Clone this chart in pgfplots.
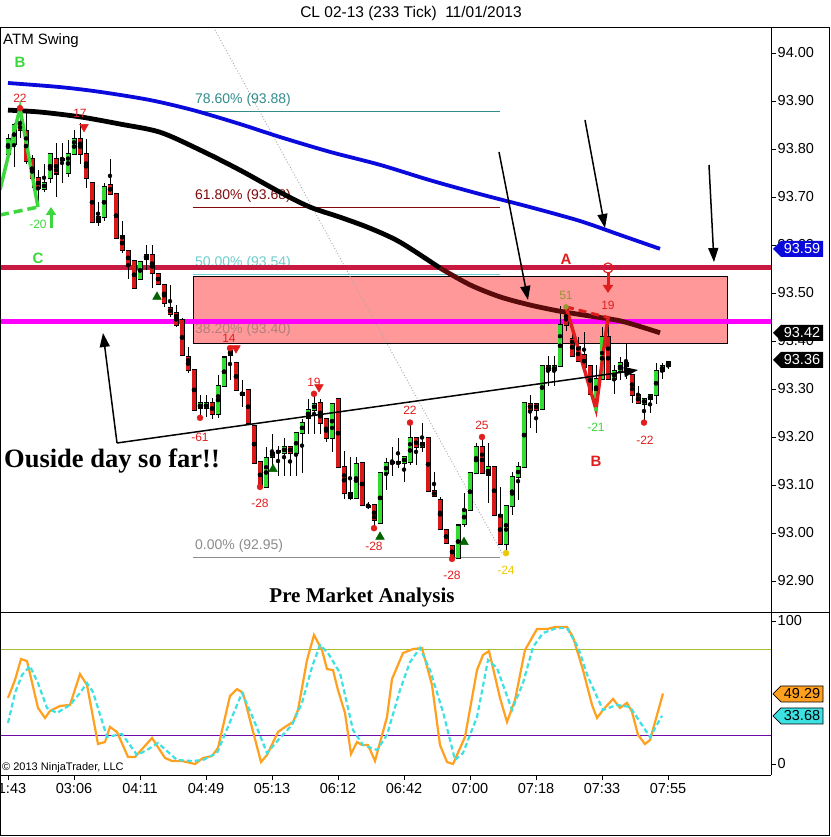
\documentclass[border=0pt]{standalone}
\usepackage{pgfplots}
\pgfplotsset{compat=1.18}
\usepackage{pgfplotstable}
\usetikzlibrary{arrows.meta}
\usepackage{fontspec}
\setmainfont{Liberation Sans}
\newfontfamily\timesfont{Liberation Serif}
\newcommand\fs[1]{\fontsize{#1bp}{#1bp}\selectfont}

\definecolor{cgreen}{RGB}{50,220,50}
\definecolor{cred}{RGB}{215,25,25}
\definecolor{crimsonl}{RGB}{200,25,65}
\definecolor{magl}{RGB}{255,0,255}
\definecolor{pinkbox}{RGB}{255,153,153}
\definecolor{fib78}{RGB}{50,140,140}
\definecolor{fib61}{RGB}{130,10,10}
\definecolor{fib50}{RGB}{110,205,205}
\definecolor{fibgray}{RGB}{140,140,140}
\definecolor{fib38}{RGB}{180,125,125}
\definecolor{mablue}{RGB}{10,10,220}
\definecolor{madark}{RGB}{90,10,10}
\definecolor{korange}{RGB}{255,160,30}
\definecolor{dcyan}{RGB}{60,225,225}
\definecolor{lvl80}{RGB}{165,190,50}
\definecolor{lvl20}{RGB}{110,10,170}
\definecolor{tgreen}{RGB}{0,100,0}
\definecolor{lblgreen}{RGB}{60,215,60}
\definecolor{lblred}{RGB}{225,30,30}
\definecolor{lblolive}{RGB}{150,150,50}
\definecolor{lblyellow}{RGB}{240,200,0}

% x o h l c  (green / neutral candles)
\pgfplotstableread{
x o h l c
8 93.790 93.833 93.785 93.821
14 93.810 93.854 93.762 93.850
44 93.717 93.769 93.710 93.730
50 93.740 93.790 93.730 93.790
62 93.778 93.813 93.730 93.780
68 93.750 93.819 93.742 93.790
74 93.790 93.840 93.790 93.821
98 93.650 93.690 93.640 93.660
104 93.658 93.730 93.650 93.720
140 93.530 93.567 93.530 93.567
146 93.570 93.600 93.548 93.580
200 93.260 93.288 93.240 93.270
206 93.260 93.288 93.242 93.270
218 93.248 93.330 93.240 93.308
224 93.308 93.367 93.308 93.367
230 93.370 93.385 93.320 93.380
242 93.290 93.320 93.263 93.294
266 93.096 93.180 93.096 93.158
272 93.158 93.208 93.135 93.167
278 93.168 93.183 93.120 93.170
284 93.167 93.198 93.120 93.180
296 93.167 93.208 93.120 93.208
302 93.208 93.240 93.127 93.230
308 93.240 93.280 93.208 93.258
314 93.258 93.290 93.208 93.270
332 93.198 93.270 93.170 93.270
356 93.075 93.158 93.070 93.146
368 93.056 93.065 93.050 93.058
380 93.020 93.125 93.020 93.125
386 93.125 93.158 93.090 93.146
392 93.146 93.180 93.120 93.148
398 93.146 93.198 93.135 93.148
404 93.146 93.158 93.108 93.158
410 93.148 93.230 93.142 93.198
422 93.180 93.230 93.170 93.188
458 92.950 93.017 92.950 93.017
464 93.020 93.085 93.013 93.048
470 93.048 93.125 93.048 93.125
476 93.125 93.188 93.125 93.180
488 93.120 93.188 93.063 93.138
506 92.977 93.056 92.958 93.056
512 93.056 93.127 93.038 93.117
518 93.117 93.148 93.070 93.138
524 93.138 93.270 93.138 93.270
542 93.258 93.348 93.258 93.348
554 93.340 93.370 93.308 93.348
560 93.348 93.473 93.348 93.433
596 93.280 93.350 93.258 93.320
602 93.320 93.430 93.320 93.408
614 93.320 93.350 93.290 93.338
620 93.338 93.367 93.320 93.356
644 93.270 93.280 93.230 93.280
650 93.280 93.288 93.250 93.288
656 93.288 93.356 93.270 93.338
662 93.338 93.356 93.323 93.348
668 93.348 93.356 93.342 93.356
}\greenc

% x o h l c  (red candles)
\pgfplotstableread{
x o h l c
20 93.850 93.885 93.823 93.840
26 93.838 93.875 93.770 93.777
32 93.780 93.788 93.720 93.740
38 93.740 93.756 93.680 93.720
56 93.780 93.813 93.700 93.750
80 93.821 93.854 93.769 93.790
86 93.790 93.821 93.720 93.740
92 93.730 93.730 93.648 93.648
110 93.727 93.780 93.708 93.708
116 93.708 93.708 93.617 93.617
122 93.620 93.650 93.583 93.590
128 93.588 93.588 93.530 93.558
134 93.567 93.567 93.510 93.510
152 93.580 93.600 93.510 93.542
158 93.540 93.542 93.517 93.520
164 93.517 93.520 93.473 93.480
170 93.470 93.517 93.450 93.458
176 93.458 93.475 93.430 93.433
182 93.444 93.448 93.370 93.370
188 93.367 93.388 93.333 93.340
194 93.340 93.340 93.258 93.258
212 93.270 93.283 93.240 93.248
236 93.356 93.356 93.298 93.298
248 93.298 93.298 93.230 93.230
254 93.225 93.225 93.148 93.148
260 93.148 93.148 93.096 93.096
290 93.180 93.180 93.120 93.167
320 93.270 93.280 93.208 93.230
326 93.238 93.238 93.190 93.198
338 93.280 93.280 93.138 93.138
344 93.138 93.170 93.070 93.085
350 93.085 93.160 93.070 93.075
362 93.146 93.146 93.058 93.058
374 93.058 93.058 93.010 93.027
416 93.198 93.198 93.142 93.180
428 93.198 93.198 93.088 93.088
434 93.088 93.127 93.077 93.077
440 93.070 93.075 93.010 93.010
446 93.008 93.008 92.977 92.980
452 92.975 92.975 92.946 92.950
482 93.180 93.200 93.125 93.125
494 93.138 93.138 93.038 93.038
500 93.038 93.096 92.977 92.977
530 93.270 93.288 93.220 93.258
536 93.270 93.270 93.208 93.258
548 93.348 93.370 93.308 93.340
566 93.470 93.470 93.420 93.433
572 93.406 93.427 93.370 93.370
578 93.388 93.408 93.360 93.360
584 93.370 93.420 93.346 93.346
590 93.348 93.348 93.290 93.290
608 93.408 93.450 93.320 93.320
626 93.356 93.396 93.320 93.350
632 93.330 93.330 93.270 93.288
638 93.288 93.308 93.270 93.270
}\redc

\begin{document}
\begin{tikzpicture}
\path[use as bounding box] (0,0) rectangle (831bp,837bp);
% ---------- background drawing objects (pixel coordinates, y down)
\begin{scope}[x=1bp,y=-1bp,yshift=837bp]
 \fill[white] (0,0) rectangle (831,837);
 \fill[pinkbox] (193,276) rectangle (727,343);
 \draw[black, line width=0.8bp] (193,276) rectangle (727,343);
 \draw[gray!70, dotted, line width=0.9bp] (215,30) -- (503,555);
 \draw[fib78, line width=0.9bp] (193,111) -- (500,111);
 \draw[fib61, line width=0.9bp] (193,207) -- (500,207);
 \draw[fib50, line width=0.9bp] (193,274) -- (500,274);
 \draw[fibgray, line width=0.9bp] (193,557) -- (500,557);
 \node[anchor=west, fib78, inner sep=0pt] at (195,100) {\fs{14}78.60\% (93.88)};
 \node[anchor=west, fib61, inner sep=0pt] at (195,196) {\fs{14}61.80\% (93.68)};
 \node[anchor=west, fib50, inner sep=0pt] at (195,263) {\fs{14}50.00\% (93.54)};
 \node[anchor=west, fib38, inner sep=0pt] at (195,330) {\fs{14}38.20\% (93.40)};
 \node[anchor=west, fibgray, inner sep=0pt] at (195,546) {\fs{14}0.00\% (92.95)};
 \draw[crimsonl, line width=5bp] (0,268) -- (771,268);
 \draw[magl, line width=5bp] (0,322) -- (771,322);
\end{scope}

% ---------- price panel
\begin{axis}[at={(0bp,224bp)}, anchor=south west, width=771bp, height=586bp,
  scale only axis, xmin=0, xmax=771, ymin=92.8333, ymax=94.0542,
  axis x line=none, axis y line*=right,
  ytick={92.9,93,93.1,93.2,93.3,93.4,93.5,93.6,93.7,93.8,93.9,94},
  tick align=outside, major tick length=5bp,
  tick style={black, line width=0.8bp}, axis line style={line width=1bp},
  /pgf/number format/assume math mode=true,
  yticklabel style={font=\fs{14.5}, inner xsep=1.5bp,
    /pgf/number format/fixed, /pgf/number format/fixed zerofill,
    /pgf/number format/precision=2}]
 % wicks
 \addplot[only marks, mark=none, error bars/.cd, y dir=both, y explicit, error mark=none,
   error bar style={draw=black, line width=1bp}]
   table[x=x, y expr={(\thisrow{h}+\thisrow{l})/2}, y error expr={(\thisrow{h}-\thisrow{l})/2}] {\greenc};
 \addplot[only marks, mark=none, error bars/.cd, y dir=both, y explicit, error mark=none,
   error bar style={draw=black, line width=1bp}]
   table[x=x, y expr={(\thisrow{h}+\thisrow{l})/2}, y error expr={(\thisrow{h}-\thisrow{l})/2}] {\redc};
 % body outlines
 \addplot[only marks, mark=none, error bars/.cd, y dir=both, y explicit, error mark=none,
   error bar style={draw=black, line width=5bp}]
   table[x=x, y expr={(\thisrow{o}+\thisrow{c})/2}, y error expr={abs(\thisrow{o}-\thisrow{c})/2+0.0022}] {\greenc};
 \addplot[only marks, mark=none, error bars/.cd, y dir=both, y explicit, error mark=none,
   error bar style={draw=black, line width=5bp}]
   table[x=x, y expr={(\thisrow{o}+\thisrow{c})/2}, y error expr={abs(\thisrow{o}-\thisrow{c})/2+0.0022}] {\redc};
 % body fills
 \addplot[only marks, mark=none, error bars/.cd, y dir=both, y explicit, error mark=none,
   error bar style={draw=cgreen, line width=3.2bp}]
   table[x=x, y expr={(\thisrow{o}+\thisrow{c})/2}, y error expr={abs(\thisrow{o}-\thisrow{c})/2}] {\greenc};
 \addplot[only marks, mark=none, error bars/.cd, y dir=both, y explicit, error mark=none,
   error bar style={draw=cred, line width=3.2bp}]
   table[x=x, y expr={(\thisrow{o}+\thisrow{c})/2}, y error expr={abs(\thisrow{o}-\thisrow{c})/2}] {\redc};
 % moving averages
 \addplot[mablue, line width=3.8bp, smooth] coordinates {(8,93.9375)(60,93.929)(100,93.919)(150,93.902)(193,93.881)(240,93.852)(280,93.825)(330,93.794)(380,93.767)(430,93.735)(480,93.706)(530,93.679)(580,93.65)(620,93.621)(660,93.592)};
 \addplot[black, line width=4.8bp, smooth] coordinates {(8,93.881)(40,93.877)(80,93.867)(120,93.852)(160,93.835)(200,93.798)(240,93.756)(280,93.71)(310,93.679)(340,93.658)(370,93.635)(400,93.606)(440,93.552)};
 \addplot[madark, line width=4.8bp, smooth] coordinates {(440,93.552)(470,93.517)(500,93.492)(530,93.475)(560,93.462)(590,93.452)(620,93.442)(645,93.427)(660,93.417)};
 % swing zigzags
 \addplot[lblgreen, line width=3.5bp] coordinates {(0,93.715)(20,93.885)(38,93.679)};
 \addplot[lblgreen, line width=3.5bp, dash pattern=on 9bp off 5bp] coordinates {(0,93.6625)(38,93.679)};
 \addplot[lblred, line width=3.5bp] coordinates {(566,93.471)(596,93.258)(608,93.45)};
 \addplot[lblred, line width=3bp, dash pattern=on 8bp off 5bp] coordinates {(566,93.471)(610,93.448)};
 % swing dots and signal triangles
 \addplot[only marks, mark=*, mark size=3bp, lblred] coordinates {(20,93.885)(200,93.24)(230,93.385)(260,93.096)(314,93.29)(374,93.01)(410,93.23)(452,92.946)(482,93.20)(644,93.23)};
 \addplot[only marks, mark=*, mark size=3bp, lblyellow] coordinates {(506,92.958)};
 \addplot[only marks, mark=*, mark size=2bp, lblgreen] coordinates {(596,93.258)};
 \addplot[only marks, mark=*, mark size=2.5bp, lblolive] coordinates {(566,93.471)};
 \addplot[only marks, mark=triangle*, mark size=5bp, tgreen] coordinates {(157,93.492)(273,93.133)(380,92.992)(464,92.981)};
 \addplot[only marks, mark=triangle*, mark size=5bp, lblred, mark options={rotate=180}] coordinates {(84,93.846)(236,93.385)(319,93.304)};
\end{axis}

% ---------- oscillator panel
\begin{axis}[at={(0bp,62bp)}, anchor=south west, width=771bp, height=162bp,
  scale only axis, xmin=0, xmax=771, ymin=-7.69, ymax=105.6,
  axis x line*=bottom, axis y line*=right,
  xtick={8,74,140,206,272,338,404,470,536,602,668},
  xticklabels={01:43,03:06,04:11,04:49,05:13,06:12,06:42,07:00,07:18,07:33,07:55},
  ytick={0,100}, tick align=outside, major tick length=5bp,
  tick style={black, line width=0.8bp}, axis line style={line width=1bp},
  /pgf/number format/assume math mode=true,
  ticklabel style={font=\fs{14.5}},
  yticklabel style={inner xsep=1.5bp}, xticklabel style={inner ysep=3bp}]
 \addplot[draw=lvl80, line width=1.3bp] coordinates {(0,80)(771,80)};
 \addplot[draw=lvl20, line width=1.3bp] coordinates {(0,20)(771,20)};
 \addplot[korange, line width=2.2bp] coordinates {(8,46.2)(15,58.7)(21,73.4)(27,72.0)(38,39.2)(45,32.2)(50,37.1)(60,40.6)(70,41.3)(80,62.9)(87,55.2)(98,14.0)(105,15.4)(110,25.9)(117,22.4)(128,4.9)(135,4.9)(152,18.2)(165,4.2)(172,2.1)(182,2.1)(195,0.0)(203,4.2)(212,5.6)(218,11.2)(230,47.6)(237,52.4)(243,49.7)(250,30.8)(261,1.4)(267,6.3)(278,22.4)(285,25.9)(293,29.4)(298,37.8)(307,72.7)(314,90.2)(322,79.7)(327,66.4)(333,65.7)(338,51.7)(345,35.7)(351,7.0)(357,15.4)(362,13.3)(368,13.3)(375,2.1)(387,32.9)(392,59.4)(403,77.6)(413,80.4)(422,81.1)(432,55.2)(440,13.3)(447,1.4)(453,0.0)(465,18.9)(477,65.7)(483,76.2)(489,79.0)(500,46.2)(507,29.4)(515,44.8)(525,79.7)(537,94.4)(547,94.4)(555,95.8)(567,95.8)(573,88.8)(583,65.7)(592,41.3)(597,32.2)(603,37.8)(613,45.5)(620,39.2)(627,42.7)(632,36.4)(638,20.3)(645,14.0)(650,16.8)(663,49.3)};
 \addplot[dcyan, line width=2.2bp, dash pattern=on 5bp off 3bp] coordinates {(8,28.7)(15,49.7)(22,62.2)(30,68.5)(38,56.6)(47,39.2)(57,35.7)(70,41.3)(80,49.7)(87,56.6)(93,50.3)(107,18.9)(122,21.0)(137,6.3)(147,9.8)(158,14.7)(177,2.8)(192,2.1)(203,2.8)(217,7.7)(230,29.4)(242,49.7)(253,32.2)(267,7.7)(280,18.2)(292,27.3)(302,42.7)(312,67.8)(320,83.2)(328,77.6)(340,63.6)(353,23.8)(363,13.3)(377,9.8)(387,20.3)(400,51.7)(410,71.3)(420,81.1)(430,65.7)(443,36.4)(455,2.8)(463,7.7)(477,32.9)(488,72.7)(497,67.1)(512,37.8)(523,56.6)(533,81.8)(543,91.6)(557,95.1)(567,95.1)(578,81.8)(588,60.8)(603,37.8)(617,41.3)(630,39.9)(640,29.4)(650,18.9)(662,33.7)};
\end{axis}

% ---------- overlay: frame, annotations, tags
\begin{scope}[x=1bp,y=-1bp,yshift=837bp]
 \draw[line width=1bp] (0.5,27.5) rectangle (829.5,835.5);
 \draw[line width=1bp] (0,613) -- (830,613);
 \node at (411,13) {\fs{15.5}CL 02-13 (233 Tick)\ \ 11/01/2013};
 \node[anchor=west, inner sep=0pt] at (3,41) {\fs{15}ATM Swing};
 % letters
 \node[lblgreen] at (20,62) {\fs{15}\bfseries B};
 \node[lblgreen] at (38,258) {\fs{15}\bfseries C};
 \node[lblred] at (566,259) {\fs{15}\bfseries A};
 \node[lblred] at (596,461) {\fs{15}\bfseries B};
 % swing labels
 \node[lblred] at (20,98) {\fs{12}22};
 \node[lblred] at (80,113) {\fs{12}17};
 \node[lblgreen] at (38,224) {\fs{12}-20};
 \node[lblred] at (229,338) {\fs{12}14};
 \node[lblred] at (200,437) {\fs{12}-61};
 \node[lblred] at (314,382) {\fs{12}19};
 \node[lblred] at (260,503) {\fs{12}-28};
 \node[lblred] at (410,410) {\fs{12}22};
 \node[lblred] at (374,546) {\fs{12}-28};
 \node[lblred] at (482,425) {\fs{12}25};
 \node[lblred] at (452,575) {\fs{12}-28};
 \node[lblyellow] at (506,570) {\fs{12}-24};
 \node[lblolive] at (566,295) {\fs{12}51};
 \node[lblred] at (608,305) {\fs{12}19};
 \node[lblgreen] at (596,427) {\fs{12}-21};
 \node[lblred] at (645,440) {\fs{12}-22};
 % green up arrow and red down arrow
 \draw[lblgreen, line width=3bp, -{Triangle[length=8bp,width=10bp]}] (51,228) -- (51,207);
 \draw[lblred, line width=1.2bp] (608,268) circle (5bp);
 \draw[lblred, line width=3bp, -{Triangle[length=8bp,width=10bp]}] (608,273) -- (608,293);
 % black arrows
 \draw[black, line width=1.5bp, -{Triangle[length=14bp,width=10bp]}] (117,443) -- (103,333);
 \draw[black, line width=1.5bp, -{Triangle[length=14bp,width=10bp]}] (117,443) -- (638,370);
 \draw[black, line width=1.5bp, -{Triangle[length=14bp,width=10bp]}] (499,152) -- (528,300);
 \draw[black, line width=1.5bp, -{Triangle[length=14bp,width=10bp]}] (585,120) -- (605,228);
 \draw[black, line width=1.5bp, -{Triangle[length=14bp,width=10bp]}] (709,165) -- (714,262);
 % texts
 \node[anchor=west, inner sep=0pt] at (4,461) {\timesfont\bfseries\fs{26.5}Ouside day so far!!};
 \node at (362,597) {\timesfont\bfseries\fs{21}Pre Market Analysis};
 \node[anchor=west, inner sep=0pt] at (2,768) {\fs{11}\textcopyright{} 2013 NinjaTrader, LLC};
 % value tags
 \fill[mablue] (773,249)--(781,241)--(823,241)--(823,257)--(781,257)--cycle;
 \node[white] at (802,249) {\fs{14.5}93.59};
 \fill[black] (773,333)--(781,325)--(823,325)--(823,341)--(781,341)--cycle;
 \node[white] at (802,333) {\fs{14.5}93.42};
 \fill[black] (773,360)--(781,352)--(823,352)--(823,368)--(781,368)--cycle;
 \node[white] at (802,360) {\fs{14.5}93.36};
 \filldraw[fill=korange, draw=black, line width=0.7bp] (773,694)--(781,686)--(823,686)--(823,702)--(781,702)--cycle;
 \node[black] at (802,694) {\fs{14.5}49.29};
 \filldraw[fill=dcyan, draw=black, line width=0.7bp] (773,716)--(781,708)--(823,708)--(823,724)--(781,724)--cycle;
 \node[black] at (802,716) {\fs{14.5}33.68};
\end{scope}
\end{tikzpicture}
\end{document}
